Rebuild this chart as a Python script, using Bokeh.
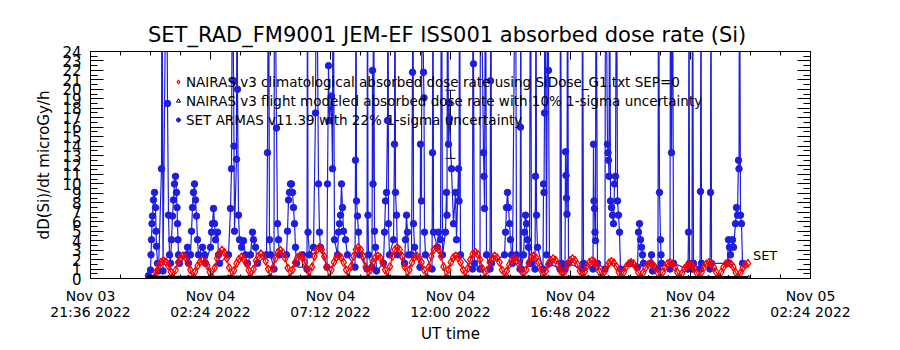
import numpy as np
from bokeh.plotting import figure
from bokeh.models import (Range1d, LinearAxis, FixedTicker, SingleIntervalTicker,
                          Legend, LegendItem, Whisker, ColumnDataSource, Label, TeeHead,
                          CustomJSTickFormatter)
from bokeh.embed import file_html
from bokeh.resources import INLINE

# ---------------- data (time in hours after 2022-11-03 21:36 UT) ----------------
x_tick_hours = [0, 4.8, 9.6, 14.4, 19.2, 24.0, 28.8]
x_tick_labels = ["Nov 03\n21:36 2022", "Nov 04\n02:24 2022", "Nov 04\n07:12 2022",
                 "Nov 04\n12:00 2022", "Nov 04\n16:48 2022", "Nov 04\n21:36 2022",
                 "Nov 05\n02:24 2022"]
x_minor_hours = [1.2 * i for i in range(25)]

# NAIRAS v3 climatological absorbed dose rate (regular cadence)
nairas_clim_start_h = 2.53
nairas_clim_step_h = 0.0974
nairas_clim = [
    0.05, 0.70, 1.35, 1.74, 1.90, 1.76, 1.33, 0.71,
    0.07, 0.90, 1.71, 2.20, 2.40, 2.22, 1.69, 0.92,
    0.06, 0.73, 1.34, 1.76, 1.90, 1.74, 1.36, 0.70,
    0.09, 1.13, 2.14, 2.75, 3.00, 2.77, 2.12, 1.15,
    0.07, 0.85, 1.61, 2.06, 2.25, 2.08, 1.59, 0.87,
    0.08, 0.98, 1.86, 2.38, 2.60, 2.40, 1.84, 1.00,
    0.09, 1.15, 2.12, 2.77, 3.00, 2.75, 2.14, 1.13,
    0.07, 0.92, 1.69, 2.22, 2.40, 2.20, 1.71, 0.90,
    0.10, 1.24, 2.35, 3.03, 3.30, 3.05, 2.33, 1.26,
    0.07, 0.90, 1.71, 2.21, 2.40, 2.21, 1.70, 0.91,
    0.10, 1.26, 2.33, 3.05, 3.30, 3.03, 2.35, 1.24,
    0.07, 0.91, 1.70, 2.20, 2.40, 2.22, 1.69, 0.92,
    0.10, 1.25, 2.34, 3.04, 3.30, 3.04, 2.34, 1.25,
    0.07, 0.92, 1.69, 2.22, 2.40, 2.20, 1.71, 0.90,
    0.10, 1.24, 2.35, 3.03, 3.30, 3.05, 2.33, 1.26,
    0.07, 0.91, 1.71, 2.21, 2.40, 2.21, 1.70, 0.91,
    0.08, 1.06, 1.98, 2.59, 2.80, 2.57, 2.00, 1.05,
    0.07, 0.90, 1.70, 2.22, 2.40, 2.20, 1.71, 0.92,
    0.06, 0.80, 1.48, 1.94, 2.10, 1.93, 1.50, 0.79,
    0.07, 0.92, 1.69, 2.21, 2.40, 2.22, 1.70, 0.90,
    0.06, 0.79, 1.50, 1.93, 2.10, 1.94, 1.48, 0.81,
    0.06, 0.81, 1.49, 1.92, 2.10, 1.93, 1.49, 0.80,
    0.05, 0.72, 1.36, 1.74, 1.90, 1.75, 1.34, 0.73,
    0.05, 0.69, 1.27, 1.66, 1.80, 1.65, 1.29, 0.68,
    0.05, 0.64, 1.22, 1.56, 1.70, 1.57, 1.20, 0.65,
    0.05, 0.61, 1.13, 1.48, 1.60, 1.46, 1.15, 0.60,
    0.05, 0.65, 1.20, 1.57, 1.70, 1.56, 1.21, 0.64,
    0.04, 0.57, 1.07, 1.37, 1.50, 1.39, 1.06, 0.58,
    0.05, 0.64, 1.21, 1.56, 1.70, 1.57, 1.20, 0.66,
    0.05, 0.66, 1.20, 1.57, 1.70, 1.55, 1.22, 0.64,
    0.05, 0.60, 1.14, 1.47, 1.60,
]

# NAIRAS v3 flight modeled absorbed dose rate (regular cadence)
nairas_flight_start_h = 2.32
nairas_flight_step_h = 0.80
nairas_flight = [0.15, 0.12, 0.14, 0.11, 0.16, 0.13, 0.15, 0.12, 0.17, 0.13, 0.16,
                 0.12, 0.17, 0.13, 0.16, 0.12, 0.15, 0.13, 0.14, 0.12, 0.13, 0.12,
                 0.12, 0.11, 0.11, 0.10, 0.11, 0.10, 0.11, 0.11, 0.10]

# SET ARMAS v11.39 measured dose rate
set_time_h = [
    2.32, 2.40, 2.42, 2.44, 2.46, 2.48, 2.52, 2.56, 2.60, 2.62, 2.64, 2.68, 2.72,
    2.84, 2.86, 2.90, 3.04, 3.08, 3.12, 3.16,
    3.20, 3.24, 3.28, 3.32, 3.36, 3.40, 3.44, 3.46, 3.48, 3.50, 3.52, 3.56,
    3.84, 3.88, 3.92,
    4.00, 4.04, 4.08, 4.12, 4.16, 4.20, 4.24, 4.28, 4.32,
    4.48, 4.56, 4.60,
    4.80, 4.84, 4.88, 4.92, 4.96, 5.00, 5.08, 5.12, 5.16,
    5.52, 5.60, 5.64, 5.68, 5.72, 5.74, 5.76, 5.84, 5.86, 5.88, 5.92, 5.96,
    6.04, 6.12, 6.20, 6.28,
    6.40, 6.48, 6.52, 6.60, 6.68,
    7.04, 7.08, 7.12, 7.16, 7.20,
    7.34, 7.36, 7.44, 7.48, 7.52, 7.56,
    7.84, 7.88, 7.92, 7.96, 8.00, 8.04, 8.08, 8.12, 8.16, 8.20, 8.24,
    8.48, 8.66, 8.68, 8.70, 8.76,
    8.92, 9.00, 9.04, 9.12, 9.16, 9.20,
    9.46, 9.48, 9.52, 9.56, 9.64, 9.68, 9.70, 9.76,
    9.88, 9.92, 9.96, 10.00, 10.04, 10.08, 10.12, 10.20, 10.28,
    10.58, 10.60, 10.62, 10.64, 10.68, 10.72, 10.76,
    11.06, 11.08, 11.10, 11.12,
    11.26, 11.28, 11.30, 11.32, 11.36, 11.40, 11.44,
    11.72, 11.76, 11.80, 11.84, 11.88, 11.90, 11.92, 11.96,
    12.12, 12.16, 12.18, 12.20, 12.24, 12.28,
    12.56, 12.60, 12.64, 12.68, 12.72,
    12.84, 12.88, 12.90, 12.92, 12.96,
    13.18, 13.20, 13.24, 13.26, 13.32, 13.34, 13.36, 13.40,
    13.66, 13.68, 13.70, 13.72,
    13.88, 13.92, 14.00, 14.04, 14.08,
    14.20, 14.24, 14.26, 14.28, 14.32, 14.34, 14.36, 14.44, 14.52, 14.60, 14.64,
    14.72, 14.74, 14.76, 14.80,
    15.28, 15.30, 15.32, 15.36,
    15.58, 15.60, 15.72, 15.74, 15.76, 15.80, 15.84,
    15.98, 16.00, 16.02, 16.04,
    16.56, 16.60, 16.64, 16.68, 16.72, 16.76, 16.80, 16.84, 16.88,
    17.00, 17.04, 17.18, 17.20, 17.21, 17.23,
    17.32, 17.36, 17.40, 17.44, 17.48, 17.52, 17.56,
    17.60, 17.64,
    17.78, 17.80, 17.82, 17.84, 17.88,
    18.10, 18.12, 18.14, 18.16, 18.18, 18.24, 18.30, 18.32, 18.36,
    18.78, 18.80, 18.84,
    18.98, 19.00, 19.02, 19.04, 19.06, 19.08, 19.12,
    19.66, 19.68, 19.72,
    20.10, 20.12, 20.14, 20.16, 20.18, 20.20, 20.22, 20.28,
    20.58, 20.60, 20.68, 20.70, 20.72, 20.74, 20.76, 20.80, 20.84, 20.88, 20.92, 20.96,
    21.00, 21.04, 21.08, 21.12, 21.16, 21.20,
    21.60, 21.88, 21.92, 21.96, 22.00, 22.04, 22.08, 22.12,
    22.40, 22.44, 22.48,
    22.70, 22.72, 22.76, 22.80, 22.82, 22.84,
    23.18, 23.20, 23.24, 23.28, 23.32,
    23.90, 23.92, 23.94, 23.96, 24.06, 24.08, 24.12,
    24.38, 24.40, 24.42, 24.44, 24.78, 24.80, 24.82, 24.84,
    25.48, 25.52, 25.56, 25.60, 25.68, 25.72,
    25.80, 25.84, 25.88, 25.92, 25.94, 25.96, 26.00, 26.04, 26.08,
]
set_dose = [
    0.3, 0.9, 2.5, 4.1, 5.8, 6.6, 8.3, 9.1, 7.5, 5.0, 3.4, 1.6, 0.8,
    11.6, 40, 0.8, 40, 18.5, 6.7, 2.5,
    1.6, 4.1, 6.6, 8.3, 10.0, 10.8, 9.1, 7.5, 5.8, 4.1, 2.5, 1.6,
    2.5, 3.3, 1.6,
    2.5, 5.0, 7.5, 9.1, 10.0, 8.3, 6.6, 4.1, 2.5,
    3.3, 2.5, 1.6,
    3.3, 4.9, 5.8, 7.4, 5.8, 4.1, 4.9, 2.5, 1.6,
    2.5, 7.4, 11.6, 40, 20.9, 14.0, 5.0, 12.6, 40, 20.0, 6.7, 4.1,
    3.3, 4.0, 2.5, 1.6,
    2.5, 4.9, 4.1, 3.3, 1.6,
    2.5, 13.3, 40, 4.1, 2.5,
    1.0, 40, 15.9, 5.8, 4.1, 2.5,
    2.5, 5.0, 8.3, 9.1, 10.0, 10.0, 9.1, 7.5, 5.8, 3.3, 1.6,
    2.5, 1.0, 40, 4.9, 2.5,
    3.3, 17.5, 40, 10.0, 4.9, 3.3,
    1.2, 10.0, 22.5, 16.7, 19.3, 11.6, 40, 4.1,
    2.5, 4.9, 5.8, 6.7, 10.0, 7.5, 5.0, 4.1, 2.5,
    1.2, 12.5, 40, 8.2, 6.6, 4.9, 2.5,
    1.0, 40, 6.7, 2.5,
    1.2, 22.0, 10.0, 40, 5.0, 3.3, 0.8,
    1.6, 4.9, 8.2, 9.1, 16.7, 40, 5.8, 2.5,
    4.1, 14.2, 40, 9.1, 6.7, 2.5,
    1.6, 4.1, 6.7, 4.9, 2.5,
    2.5, 21.8, 40, 5.8, 3.3,
    1.2, 14.2, 8.2, 40, 21.8, 19.1, 4.9, 2.5,
    1.0, 13.3, 40, 4.9,
    3.3, 4.9, 4.1, 40, 2.5,
    4.9, 9.1, 6.7, 40, 14.2, 18.6, 16.9, 11.6, 5.8, 9.1, 4.1,
    11.6, 8.2, 40, 2.5,
    1.0, 40, 22.7, 1.6,
    1.0, 40, 13.3, 10.8, 7.4, 40, 2.5,
    1.0, 20.9, 40, 1.6,
    2.5, 4.9, 7.5, 9.1, 7.5, 5.8, 4.1, 2.5, 1.6,
    40, 2.5, 1.0, 16.0, 40, 1.0,
    2.5, 4.9, 6.7, 5.8, 4.1, 3.3, 1.6,
    40, 1.6,
    1.0, 10.8, 40, 6.7, 3.3,
    1.0, 10.0, 9.1, 17.5, 40, 2.5, 40, 22.0, 1.6,
    1.0, 40, 1.6,
    1.0, 13.4, 10.9, 8.5, 6.8, 40, 1.6,
    1.0, 40, 1.6,
    1.0, 14.2, 8.2, 7.4, 4.9, 4.0, 40, 1.6,
    1.0, 40, 14.2, 13.3, 12.5, 10.8, 40, 8.2, 7.5, 6.7, 5.8, 10.0,
    10.8, 40, 8.2, 6.7, 4.9, 1.0,
    1.6, 1.2, 4.9, 5.8, 4.1, 3.3, 2.5, 1.6,
    1.6, 2.5, 0.8,
    1.0, 40, 9.1, 4.1, 2.5, 1.6,
    1.0, 40, 13.3, 40, 1.6,
    1.0, 4.9, 40, 1.6, 1.0, 40, 1.6,
    1.0, 9.2, 40, 1.6, 1.0, 9.1, 40, 1.6,
    1.6, 4.1, 3.3, 2.5, 4.1, 3.3,
    5.8, 7.5, 6.7, 12.5, 11.6, 40, 6.7, 5.8, 1.6,
]

# SET 22% 1-sigma error bars drawn on a few points
err_time_h = [8.48, 14.40]
err_low = [1.2, 12.7]
err_high = [2.6, 19.9]

# ---------------- figure ----------------
FONT = "DejaVu Sans"
BLUE = "#1e1ee0"

clim_t = [nairas_clim_start_h + i * nairas_clim_step_h for i in range(len(nairas_clim))]
flight_t = [nairas_flight_start_h + i * nairas_flight_step_h for i in range(len(nairas_flight))]

p = figure(width=900, height=350, output_backend="svg", toolbar_location=None,
           x_range=Range1d(0, 28.8), y_range=Range1d(0, 24),
           min_border_left=90, min_border_right=90, min_border_top=51, min_border_bottom=72,
           x_axis_label="UT time", y_axis_label="dD(Si)/dt microGy/h")
p.background_fill_color = "white"
p.border_fill_color = "white"
p.outline_line_color = "black"
p.xgrid.visible = False
p.ygrid.visible = False

p.title.text = "SET_RAD_FM9001  JEM-EF ISS001 absorbed dose rate (Si)"
p.title.align = "center"
p.title.text_font = FONT
p.title.text_font_size = "21px"
p.title.text_font_style = "normal"
p.title.text_color = "black"

# SET data
set_line = p.line(set_time_h, set_dose, line_color=BLUE, line_width=1.2)
set_pts = p.scatter(set_time_h, set_dose, marker="circle", size=6.5,
                    fill_color=BLUE, line_color=BLUE)

# NAIRAS climatological
clim_line = p.line(clim_t, nairas_clim, line_color="red", line_width=1.2)
clim_pts = p.scatter(clim_t, nairas_clim, marker="diamond", size=8,
                     fill_color=None, line_color="red", line_width=1.3)

# NAIRAS flight modeled
flight_line = p.line(flight_t, nairas_flight, line_color="black", line_width=3)
flight_pts = p.scatter(flight_t, nairas_flight, marker="triangle", size=4,
                       fill_color=None, line_color="black")

err_src = ColumnDataSource(dict(t=err_time_h, lo=err_low, hi=err_high))
p.add_layout(Whisker(source=err_src, base="t", lower="lo", upper="hi",
                     line_color="black", line_width=1,
                     upper_head=TeeHead(size=10, line_color="black"),
                     lower_head=TeeHead(size=10, line_color="black")))

p.add_layout(Label(x=clim_t[-1] + 0.2, y=nairas_clim[-1], text="SET",
                   text_font=FONT, text_font_size="13px", text_color="black",
                   text_baseline="bottom"))

# legend
legend = Legend(items=[
    LegendItem(label="NAIRAS v3 climatological absorbed dose rate using SiDose_G1.txt SEP=0",
               renderers=[clim_pts]),
    LegendItem(label="NAIRAS v3 flight modeled absorbed dose rate with 10% 1-sigma uncertainty",
               renderers=[flight_pts]),
    LegendItem(label="SET ARMAS v11.39 with 22% 1-sigma uncertainty", renderers=[set_pts]),
], location=(83, 149))
legend.background_fill_alpha = 0
legend.border_line_alpha = 0
legend.label_text_font = FONT
legend.label_text_font_size = "13.5px"
legend.label_text_color = "black"
legend.glyph_width = 10
legend.glyph_height = 19
legend.label_height = 19
legend.spacing = 0
legend.padding = 0
legend.margin = 0
legend.label_standoff = 3
p.add_layout(legend)

# axes
xt = FixedTicker(ticks=x_tick_hours, minor_ticks=x_minor_hours)
yt = SingleIntervalTicker(interval=1, num_minor_ticks=2)

for ax in p.xaxis:
    ax.ticker = xt
    overrides = {}
    for v, s in zip(x_tick_hours, x_tick_labels):
        overrides[float(v)] = s
        if float(v).is_integer():
            overrides[int(v)] = s
    ax.major_label_overrides = overrides
for ax in p.yaxis:
    ax.ticker = yt

def style_axis(ax):
    ax.axis_line_color = "black"
    ax.major_tick_line_color = "black"
    ax.minor_tick_line_color = "black"
    ax.major_tick_out = 0
    ax.minor_tick_out = 0
    ax.major_label_text_font = FONT
    ax.major_label_text_color = "black"
    ax.axis_label_text_font = FONT
    ax.axis_label_text_font_style = "normal"
    ax.axis_label_text_color = "black"

style_axis(p.xaxis[0])
p.xaxis[0].major_tick_in = 8
p.xaxis[0].minor_tick_in = 4
p.xaxis[0].major_label_text_font_size = "14px"
p.xaxis[0].major_label_text_line_height = 1.0
p.xaxis[0].major_label_standoff = 9
p.xaxis[0].axis_label_text_font_size = "15px"
p.xaxis[0].axis_label_standoff = 2

style_axis(p.yaxis[0])
p.yaxis[0].major_tick_in = 13
p.yaxis[0].minor_tick_in = 7
p.yaxis[0].major_label_text_font_size = "15px"
p.yaxis[0].major_label_standoff = 9
p.yaxis[0].axis_label_text_font_size = "15px"
p.yaxis[0].axis_label_standoff = 6

blank = CustomJSTickFormatter(code="return '';")

top = LinearAxis(ticker=xt, formatter=blank)
style_axis(top)
top.major_label_text_font_size = "1px"
top.major_tick_in = 8
top.minor_tick_in = 4
p.add_layout(top, "above")

right = LinearAxis(ticker=yt, formatter=blank)
style_axis(right)
right.major_label_text_font_size = "1px"
right.major_tick_in = 13
right.minor_tick_in = 7
p.add_layout(right, "right")

open("out.html", "w").write(file_html(p, INLINE))
